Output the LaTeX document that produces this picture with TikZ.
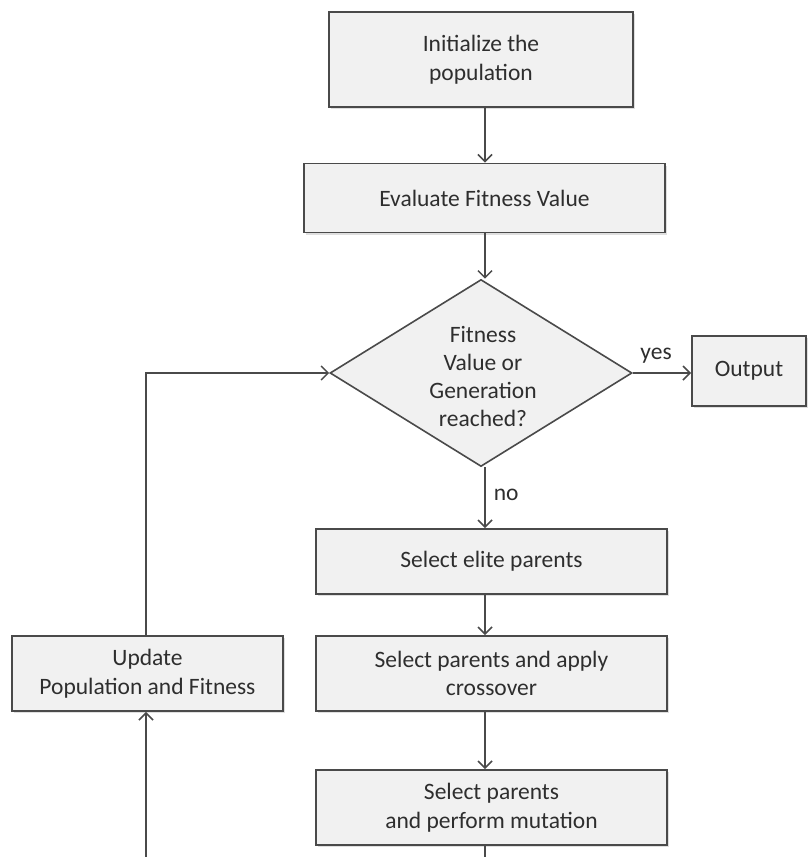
\documentclass[tikz,border=0pt]{standalone}
\usepackage{fontspec}
\setmainfont{Carlito}
\usetikzlibrary{shapes.geometric,arrows.meta,shadows}
\definecolor{boxfill}{HTML}{F1F1F1}
\definecolor{boxline}{HTML}{4A4A4A}
\definecolor{txt}{HTML}{2E2E2E}
\begin{document}
\begin{tikzpicture}[x=1pt,y=-1pt,
  box/.style={rectangle,draw=boxline,line width=1.9pt,fill=boxfill,align=center,
    inner sep=0pt,text=txt,font=\fontsize{23.5}{28.5}\selectfont,
    drop shadow={opacity=0.25,shadow xshift=1.5pt,shadow yshift=-2pt}},
  decision/.style={diamond,draw=boxline,line width=1.6pt,fill=boxfill,inner sep=0pt,
    minimum width=302pt,minimum height=187pt,aspect=1.615},
  dtext/.style={align=center,text=txt,font=\fontsize{23.5}{28}\selectfont,inner sep=0pt},
  lbl/.style={text=txt,font=\fontsize{23.5}{26}\selectfont,inner sep=0pt},
  conn/.style={draw=boxline,line width=1.5pt},
  arr/.style={conn,-{Straight Barb[length=7pt,width=14pt,line width=1.5pt]}}]
\useasboundingbox (0,0) rectangle (809,857);
\fill[white] (0,0) rectangle (809,857);
\coordinate (ax) at (485,0);
\coordinate (lx) at (146,0);
\coordinate (bl) at (146,857);
\coordinate (br) at (485,857);

\node[box,minimum width=304pt,minimum height=95pt] (init) at (481,59.5) {Initialize the\\population};
\node[box,minimum width=361pt,minimum height=69pt] (eval) at (484.5,198) {Evaluate Fitness Value};
\node[decision] (dec) at (481,373) {};
\node[dtext] (dect) at (483,376) {Fitness\\Value or\\Generation\\reached?};
\node[box,minimum width=114pt,minimum height=70pt] (out) at (749,371) {Output};
\node[box,minimum width=351pt,minimum height=65pt] (elite) at (491.5,561.5) {Select elite parents};
\node[box,minimum width=351pt,minimum height=75pt] (cross) at (491.5,673.5) {Select parents and apply\\crossover};
\node[box,minimum width=351pt,minimum height=75pt] (mut) at (491.5,807.5) {Select parents\\and perform mutation};
\node[box,minimum width=271pt,minimum height=75pt] (upd) at (147.5,673.5) {Update\\Population and Fitness};

\draw[arr] (init.south -| ax) -- (eval.north -| ax);
\draw[arr] (eval.south -| ax) -- (dec.north -| ax);
\draw[arr] (dec.east) -- (out.west |- dec.east) node[lbl,pos=0.4,above=9pt] {yes};
\draw[arr] (dec.south -| ax) -- (elite.north -| ax) node[lbl,pos=0.45,right=8pt] {no};
\draw[arr] (elite.south -| ax) -- (cross.north -| ax);
\draw[arr] (cross.south -| ax) -- (mut.north -| ax);
\draw[conn] (mut.south -| ax) -- (br);
\draw[arr] (bl) -- (upd.south -| lx);
\draw[arr] (upd.north -| lx) |- (dec.west);
\end{tikzpicture}
\end{document}
